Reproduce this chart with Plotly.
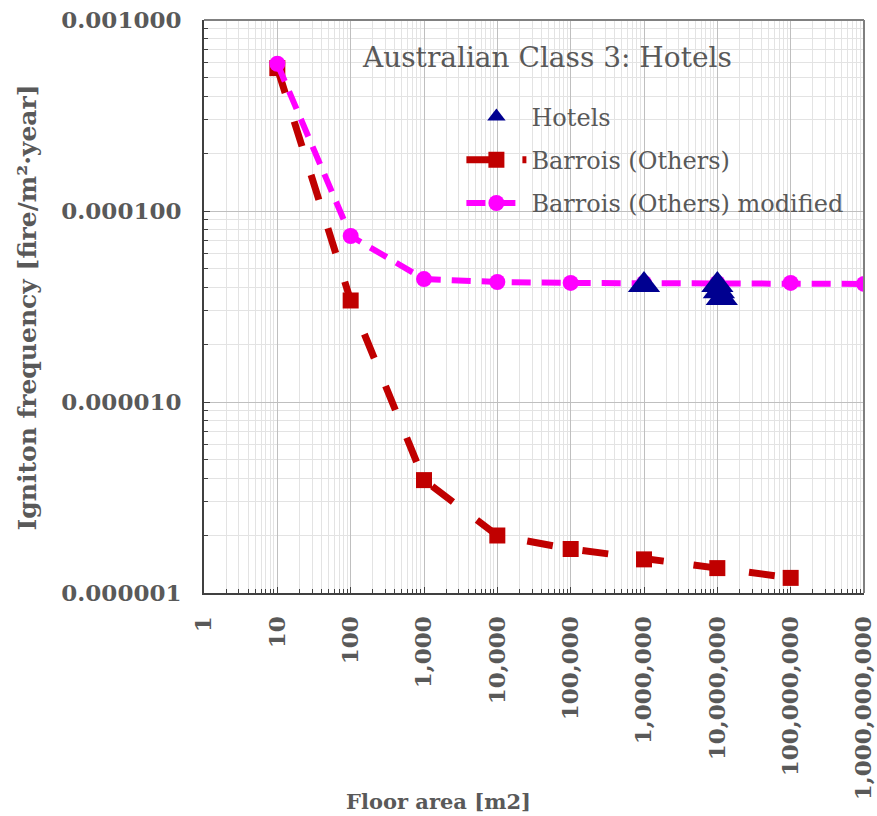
import plotly.graph_objects as go

# Floor areas [m2] and ignition frequencies [fire/m2·year]
barrois_area = [10, 100, 1000, 1e4, 1e5, 1e6, 1e7, 1e8]
barrois_freq = [5.6e-4, 3.4e-5, 3.9e-6, 2.0e-6, 1.7e-6, 1.5e-6, 1.35e-6, 1.2e-6]

modified_area = [10, 100, 1000, 1e4, 1e5, 1e6, 1e7, 1e8, 1e9]
modified_freq = [5.9e-4, 7.4e-5, 4.4e-5, 4.25e-5, 4.2e-5, 4.2e-5, 4.2e-5, 4.2e-5, 4.15e-5]

hotels_area = [1e6, 1.0e7, 1.05e7, 1.15e7]
hotels_freq = [4.1e-5, 4.1e-5, 3.8e-5, 3.5e-5]

chart_title = "Australian Class 3: Hotels"
x_title = "Floor area [m2]"
y_title = "Igniton frequency [fire/m²·year]"

TEXT = "#595959"
SERIF = "DejaVu Serif"

fig = go.Figure()

fig.add_trace(go.Scatter(
    x=barrois_area, y=barrois_freq, name="Barrois (Others)",
    mode="lines+markers", legendgroup="b", legendrank=2,
    line=dict(color="#C00000", width=7, dash="26px,30px"),
    marker=dict(symbol="square", size=16, color="#C00000"),
))
fig.add_trace(go.Scatter(
    x=modified_area, y=modified_freq, name="Barrois (Others) modified",
    mode="lines+markers", legendgroup="m", legendrank=3,
    line=dict(color="#FF00FF", width=6, dash="19px,11px"),
    marker=dict(symbol="circle", size=16, color="#FF00FF"),
))
fig.add_trace(go.Scatter(
    x=hotels_area, y=hotels_freq, name="Hotels",
    mode="markers", legendgroup="h", legendrank=1,
    marker=dict(symbol="triangle-up", size=28, color="#000090"),
))

grid_major = "#BFBFBF"
grid_minor = "#E3E3E3"

fig.update_xaxes(
    type="log", range=[0, 9], dtick=1, tick0=0, tickformat=",d",
    tickangle=-90, ticks="inside", ticklen=6, tickcolor="#404040",
    tickfont=dict(family=SERIF, size=23, color=TEXT, weight="bold"),
    ticklabelstandoff=12, automargin=False,
    showline=True, linecolor="#404040", linewidth=2,
    showgrid=True, gridcolor=grid_major, gridwidth=1,
    minor=dict(dtick="D1", ticks="inside", ticklen=4, tickcolor="#404040",
               showgrid=True, gridcolor=grid_minor, gridwidth=1),
    zeroline=False,
)
fig.update_yaxes(
    type="log", range=[-6, -3], dtick=1, tick0=0, tickformat=".6f",
    ticks="inside", ticklen=6, tickcolor="#404040",
    tickfont=dict(family=SERIF, size=23, color=TEXT, weight="bold"),
    ticklabelstandoff=16, automargin=False,
    showline=True, linecolor="#404040", linewidth=2,
    showgrid=True, gridcolor=grid_major, gridwidth=1,
    minor=dict(dtick="D1", ticks="inside", ticklen=4, tickcolor="#404040",
               showgrid=True, gridcolor=grid_minor, gridwidth=1),
    zeroline=False,
)

# light frame on the top and right edges of the plot area
fig.add_shape(type="line", xref="paper", yref="paper", x0=0, x1=1, y0=1, y1=1,
              line=dict(color="#808080", width=2), layer="above")
fig.add_shape(type="line", xref="paper", yref="paper", x0=1, x1=1, y0=0, y1=1,
              line=dict(color="#808080", width=2), layer="above")

fig.add_annotation(text=chart_title, xref="paper", yref="paper",
                   x=0.52, y=0.934, xanchor="center", yanchor="middle",
                   showarrow=False, font=dict(family=SERIF, size=28, color=TEXT))
fig.add_annotation(text=x_title, xref="paper", yref="paper",
                   x=0.356, y=-0.364, xanchor="center", yanchor="middle",
                   showarrow=False,
                   font=dict(family=SERIF, size=21, color=TEXT, weight="bold"))
fig.add_annotation(text=y_title, xref="paper", yref="paper",
                   x=-0.267, y=0.498, xanchor="center", yanchor="middle",
                   textangle=-90, showarrow=False,
                   font=dict(family=SERIF, size=25, color=TEXT, weight="bold"))

fig.update_layout(
    width=877, height=816,
    margin=dict(l=204, r=13, t=20, b=223),
    paper_bgcolor="white", plot_bgcolor="white",
    showlegend=True,
    legend=dict(x=0.39, y=0.87, xanchor="left", yanchor="top",
                bgcolor="rgba(0,0,0,0)", traceorder="grouped",
                tracegroupgap=9, itemwidth=60,
                font=dict(family=SERIF, size=24, color=TEXT)),
)

fig.write_html("out.html")
